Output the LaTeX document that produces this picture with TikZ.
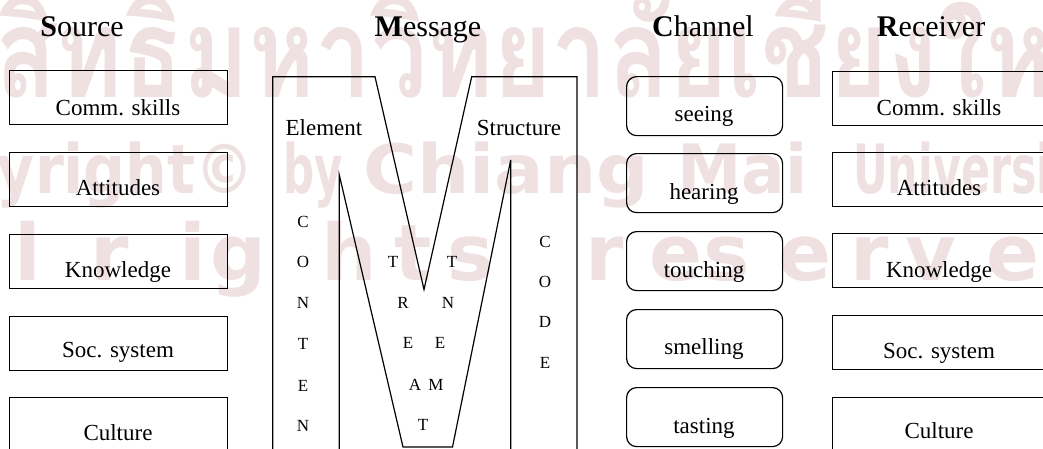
\documentclass[tikz,border=0pt]{standalone}
\usepackage{graphicx}
\usepackage{fontspec}
\setmainfont{Liberation Serif}
\newfontfamily\thaifont[Script=Thai]{Loma}
\newfontfamily\wmfont{DejaVu Sans}
\definecolor{wm}{RGB}{239,225,225}
\begin{document}
\begin{tikzpicture}[x=1pt,y=-1pt,
  title/.style={font=\fontsize{30}{30}\selectfont, anchor=base, inner sep=0},
  lbl/.style={font=\fontsize{23}{23}\selectfont, anchor=base, inner sep=0},
  ltr/.style={font=\fontsize{17}{17}\selectfont, anchor=base, inner sep=0},
  box/.style={draw, line width=1.2pt, anchor=north west, inner sep=0, minimum height=54pt},
  lbox/.style={box, minimum width=218pt},
  rbox/.style={box, minimum width=240pt},
  chbox/.style={box, rounded corners=10pt, minimum width=156pt, minimum height=59pt},
  wmtxt/.style={text=wm, inner sep=0},
  wm2/.style={wmtxt, anchor=base west, font=\wmfont\bfseries\fontsize{68}{68}\selectfont},
  wm3/.style={wmtxt, anchor=base, font=\wmfont\bfseries\fontsize{78}{78}\selectfont},
  mline/.style={line width=1.2pt, line join=miter}
]
\useasboundingbox (0,0) rectangle (1043,448);
\clip (0,0) rectangle (1043,448);
\fill[white] (0,0) rectangle (1043,448);
% watermark
\node[wmtxt, anchor=base west, font=\thaifont\bfseries\fontsize{100}{100}\selectfont] (w1) at (-5,97) {\scalebox{1}[1.25]{สิทธิ์มหาวิทยาลัยเชียงใหม่}};
\node[wm2, anchor=base east] (w2a) at (254,193) {\scalebox{0.86}[1]{Copyright©}};
\node[wm2] (w2b) at (283,193) {\scalebox{0.64}[1]{by}};
\node[wm2] (w2c) at (363,193) {\scalebox{1.08}[1]{Chiang}};
\node[wm2] (w2d) at (677,193) {\scalebox{0.95}[1]{Mai}};
\node[wm2] (w2e) at (853,193) {\scalebox{0.63}[1]{University}};
\foreach \c/\x [count=\i] in {l/28,r/110,i/193,g/238,h/349,t/413,s/471,r/605,e/676,s/727,e/805,r/870,v/931,e/1013}
  \node[wm3] (w3\i) at (\x,280) {\c};
% titles
\node[title] (tsrc) at (82,36) {\textbf{S}ource};
\node[title] (tmsg) at (428,36) {\textbf{M}essage};
\node[title] (tch) at (703,36) {\textbf{C}hannel};
\node[title] (trc) at (931,36) {\textbf{R}eceiver};
% source boxes
\node[lbox] (s1) at (9,70) {};
\node[lbox] (s2) at (9,152) {};
\node[lbox] (s3) at (9,234) {};
\node[lbox] (s4) at (9,316) {};
\node[lbox] (s5) at (9,397) {};
\node[lbl] (s1t) at (118,115) {Comm. skills};
\node[lbl] (s2t) at (118,195) {Attitudes};
\node[lbl] (s3t) at (118,277) {Knowledge};
\node[lbl] (s4t) at (118,357) {Soc. system};
\node[lbl] (s5t) at (118,440) {Culture};
% receiver boxes
\node[rbox] (r1) at (832,71) {};
\node[rbox] (r2) at (832,152) {};
\node[rbox] (r3) at (832,233) {};
\node[rbox] (r4) at (832,315) {};
\node[rbox] (r5) at (832,397) {};
\node[lbl] (r1t) at (939,115) {Comm. skills};
\node[lbl] (r2t) at (939,195) {Attitudes};
\node[lbl] (r3t) at (939,277) {Knowledge};
\node[lbl] (r4t) at (939,358) {Soc. system};
\node[lbl] (r5t) at (939,438) {Culture};
% channel boxes
\node[chbox] (c1) at (626,76) {};
\node[chbox] (c2) at (626,153) {};
\node[chbox] (c3) at (626,231) {};
\node[chbox] (c4) at (626,309) {};
\node[chbox] (c5) at (626,387) {};
\node[lbl] (c1t) at (704,121) {seeing};
\node[lbl] (c2t) at (704,199) {hearing};
\node[lbl] (c3t) at (704,277) {touching};
\node[lbl] (c4t) at (704,354) {smelling};
\node[lbl] (c5t) at (704,433) {tasting};
% message M shape
\draw[mline] (272.7,470) -- (272.7,76.7) -- (375,76.7) -- (424,289.5) -- (471.7,76.7) -- (577,76.7) -- (577,470);
\draw[mline] (339.3,470) -- (339.3,175) -- (403,447) -- (452.5,447) -- (510.7,160) -- (510.7,470);
\node[lbl] (el) at (324,135) {Element};
\node[lbl] (st) at (519,135) {Structure};
\foreach \c/\y [count=\i] in {C/227,O/267,N/308,T/349,E/391,N/431}
  \node[ltr] (ct\i) at (303,\y) {\c};
\foreach \c/\y [count=\i] in {C/247,O/287,D/327,E/368}
  \node[ltr] (cd\i) at (545,\y) {\c};
\foreach \c/\x/\y [count=\i] in {T/393/267,R/403/308,E/408/348,A/415/390,T/423/430,M/436/390,E/440/348,N/448/308,T/452/267}
  \node[ltr] (tr\i) at (\x,\y) {\c};
\end{tikzpicture}
\end{document}
